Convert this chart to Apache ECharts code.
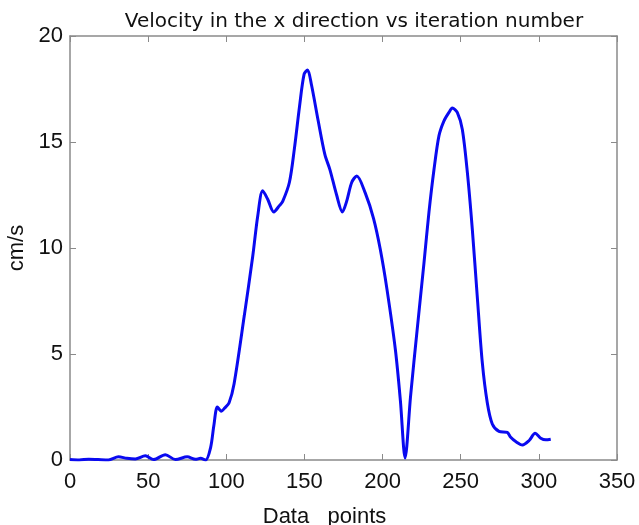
<!DOCTYPE html>
<html>
<head>
<meta charset="utf-8">
<script src="https://cdn.jsdelivr.net/npm/echarts@6/dist/echarts.min.js"></script>
<style>
  html, body { margin: 0; padding: 0; background: #fff; }
  #chart { width: 639px; height: 525px; }
</style>
</head>
<body>
<div id="chart"></div>
<script>
// data points (index) and velocity (cm/s)
var pointIdx = [0, 6, 12, 18, 24.6, 31, 36.4, 41.8, 48.2, 53.5, 61, 67.5, 75, 80.3, 83.5, 86.8,
  90, 92, 94.3, 96.8, 99, 101.8, 105, 111.5, 116.9, 120.1, 123.3, 126.5, 130.4, 134, 136.1,
  140.4, 143.6, 146.9, 149.8, 152, 154.5, 158.8, 163.1, 166.3, 170.6, 174.3, 177, 180.3,
  183.5, 188.9, 194.2, 198.5, 202.8, 208.2, 211.4, 214.4, 217.9, 222.2, 226.5, 229.7, 232.9,
  236.1, 239.3, 242.5, 244.6, 247.8, 251, 254.2, 257.4, 260.6, 263.8, 267, 270.2, 274.5,
  279.8, 282, 285.2, 289.5, 293.8, 297.6, 301.2, 304.4, 307.6];
var velocity = [0.02, 0.0, 0.04, 0.02, 0.0, 0.15, 0.08, 0.05, 0.2, 0.02, 0.25, 0.02, 0.15, 0.03, 0.08, 0.0,
  0.6, 1.6, 2.5, 2.3, 2.45, 2.7, 3.6, 6.8, 9.6, 11.5, 12.7, 12.3, 11.7, 12.0, 12.2,
  13.1, 14.7, 16.7, 18.2, 18.4, 17.7, 16.0, 14.4, 13.7, 12.5, 11.7, 12.2, 13.1,
  13.4, 12.6, 11.4, 9.95, 8.06, 5.2, 2.8, 0.1, 3.0, 6.2, 9.3, 11.7, 13.7,
  15.3, 16.0, 16.4, 16.6, 16.4, 15.6, 13.6, 10.9, 7.7, 4.6, 2.7, 1.7, 1.35,
  1.3, 1.07, 0.87, 0.71, 0.92, 1.26, 1.03, 0.95, 0.98];

var xTicks = [0, 50, 100, 150, 200, 250, 300, 350];
var yTicks = [0, 5, 10, 15, 20];

var seriesData = [];
for (var i = 0; i < pointIdx.length; i++) {
  seriesData.push([pointIdx[i], velocity[i]]);
}

var axisColor = '#8a8a8a';
var labelFont = { color: '#111', fontSize: 22, fontFamily: 'Liberation Sans, Arial, sans-serif' };

// the box: plain axes, ticks pointing in, no labels on top/right
function boxAxis(extra) {
  return Object.assign({
    type: 'value',
    axisLine: { show: true, onZero: false, lineStyle: { color: axisColor, width: 1.5 } },
    axisTick: { show: true, inside: true, length: 6, lineStyle: { color: axisColor } },
    splitLine: { show: false }
  }, extra);
}

var chart = echarts.init(document.getElementById('chart'));
chart.setOption({
  animation: false,
  backgroundColor: '#fff',
  title: {
    text: 'Velocity in the x direction vs iteration number',
    left: 349,
    top: 7,
    textAlign: 'center',
    textStyle: { fontFamily: 'DejaVu Sans', fontWeight: 'normal', fontSize: 20, color: '#111' }
  },
  grid: { left: 70, right: 22, top: 36, bottom: 65, outerBoundsMode: 'none', containLabel: false },
  xAxis: [
    boxAxis({
      min: xTicks[0], max: xTicks[xTicks.length - 1], interval: 50,
      name: 'Data   points',
      nameLocation: 'middle',
      nameGap: 46,
      nameTextStyle: Object.assign({ padding: [0, 38, 0, 0] }, labelFont),
      axisLabel: Object.assign({ margin: 11 }, labelFont)
    }),
    boxAxis({
      position: 'top',
      min: xTicks[0], max: xTicks[xTicks.length - 1], interval: 50,
      axisLabel: { show: false }
    })
  ],
  yAxis: [
    boxAxis({
      min: yTicks[0], max: yTicks[yTicks.length - 1], interval: 5,
      name: 'cm/s',
      nameLocation: 'middle',
      nameGap: 41,
      nameTextStyle: labelFont,
      axisLabel: Object.assign({ margin: 7 }, labelFont)
    }),
    boxAxis({
      position: 'right',
      min: yTicks[0], max: yTicks[yTicks.length - 1], interval: 5,
      axisLabel: { show: false }
    })
  ],
  series: [{
    type: 'line',
    data: seriesData,
    showSymbol: false,
    smooth: 0.3,
    lineStyle: { color: '#0a0af0', width: 3 },
    z: 5
  }]
});
</script>
</body>
</html>
